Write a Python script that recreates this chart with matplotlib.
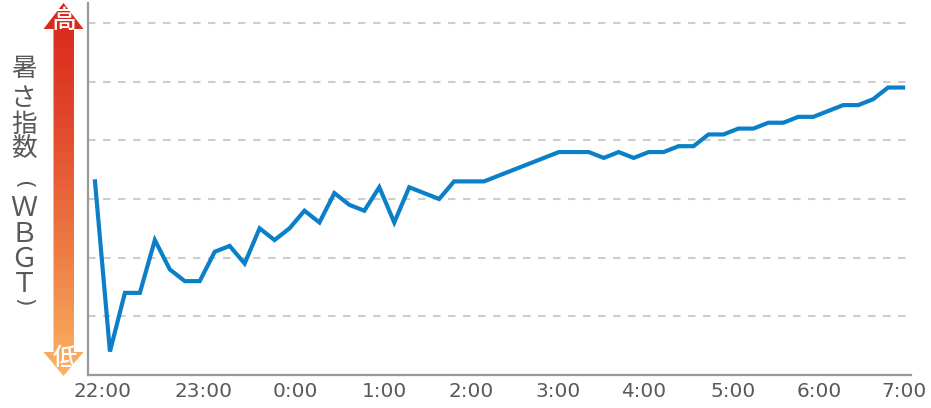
import numpy as np
import matplotlib
matplotlib.use("Agg")
import matplotlib.pyplot as plt
from matplotlib.patches import Polygon
from matplotlib.colors import LinearSegmentedColormap

# ---- data ----
wbgt = [24.3, 21.4, 22.4, 22.4, 23.3, 22.8, 22.6, 22.6, 23.1, 23.2,
        22.9, 23.5, 23.3, 23.5, 23.8, 23.6, 24.1, 23.9, 23.8, 24.2,
        23.6, 24.2, 24.1, 24.0, 24.3, 24.3, 24.3, 24.4, 24.5, 24.6,
        24.7, 24.8, 24.8, 24.8, 24.7, 24.8, 24.7, 24.8, 24.8, 24.9,
        24.9, 25.1, 25.1, 25.2, 25.2, 25.3, 25.3, 25.4, 25.4, 25.5,
        25.6, 25.6, 25.7, 25.9, 25.9]
time_labels = ["22:00", "23:00", "0:00", "1:00", "2:00", "3:00",
               "4:00", "5:00", "6:00", "7:00"]
ylabel_chars = ["暑", "さ", "指", "数", "(", "Ｗ", "Ｂ", "Ｇ", "Ｔ", ")"]
high_label = "高"
low_label = "低"

# ---- layout ----
W, H = 931, 408
fig = plt.figure(figsize=(W / 100, H / 100), dpi=100)
ax_l, ax_r, ax_b, ax_t = 87.5, 910.5, 375, 3
ax = fig.add_axes([ax_l / W, (H - ax_b) / H, (ax_r - ax_l) / W, (ax_b - ax_t) / H])

x = np.arange(len(wbgt))
ax.set_xlim(-0.5, len(wbgt) - 0.5)
ymin = 21
ax.set_ylim(ymin, ymin + (ax_b - ax_t) / 58.67)

for g in range(22, 28):
    ax.axhline(g, color="#cdcdcd", lw=1.5, ls=(0, (3.6, 3.6)), zorder=1)

ax.plot(x, wbgt, color="#0b80c8", lw=3.0, solid_joinstyle="miter", zorder=3)

for s in ("top", "right"):
    ax.spines[s].set_visible(False)
for s in ("left", "bottom"):
    ax.spines[s].set_color("#999999")
    ax.spines[s].set_linewidth(1.6)
ax.set_yticks([])
# labels justified across the bottom as in the reference
tick_pos = [0.52, 7.27, 13.42, 19.33, 25.13, 30.93, 36.69, 42.67, 48.42, 54.07]
ax.set_xticks(tick_pos)
ax.set_xticklabels(time_labels, fontsize=14.4, color="#595959", family="DejaVu Sans")
ax.tick_params(axis="x", length=0, pad=5)

# ---- left arrow with gradient ----
ov = fig.add_axes([0, 0, 1, 1])
ov.set_xlim(0, W)
ov.set_ylim(H, 0)
ov.axis("off")
ov.patch.set_alpha(0)
poly_pts = [(63.5, 3), (83.5, 29), (74, 29), (74, 352), (83.5, 352), (63.5, 376),
            (43.5, 352), (53.5, 352), (53.5, 29), (43.5, 29)]
poly = Polygon(poly_pts, closed=True, facecolor="none", edgecolor="none")
ov.add_patch(poly)
cmap = LinearSegmentedColormap.from_list("heat", ["#d8241b", "#e24a2d", "#ee7c44", "#fbb462"])
grad = np.linspace(0, 1, 256).reshape(-1, 1)
im = ov.imshow(grad, cmap=cmap, extent=(43, 84, 376, 3), aspect="auto", zorder=2)
im.set_clip_path(poly)

jp = ["Noto Sans CJK JP", "DejaVu Sans"]
ov.text(63.5, 20.5, high_label, color="white", fontsize=18, ha="center", va="center",
        family=jp, fontweight="medium", zorder=4)
ov.text(64.5, 358, low_label, color="white", fontsize=17.5, ha="center", va="center",
        family=jp, fontweight="medium", zorder=4)

# vertical y label (parentheses turned as in vertical writing)
ys = [69, 99, 125, 149, 184, 209, 234, 259, 284, 302]
for ch, yy in zip(ylabel_chars, ys):
    if ch in "()":
        ov.text(23, yy, ch, color="#595959", fontsize=16, ha="center", va="center",
                family="DejaVu Sans", rotation=-90, zorder=4)
    else:
        size = 19.5 if "Ａ" <= ch <= "Ｚ" else 18.5
        ov.text(24, yy, ch, color="#595959", fontsize=size, ha="center", va="center",
                family=jp, zorder=4)

fig.savefig("out.png", dpi=100)
